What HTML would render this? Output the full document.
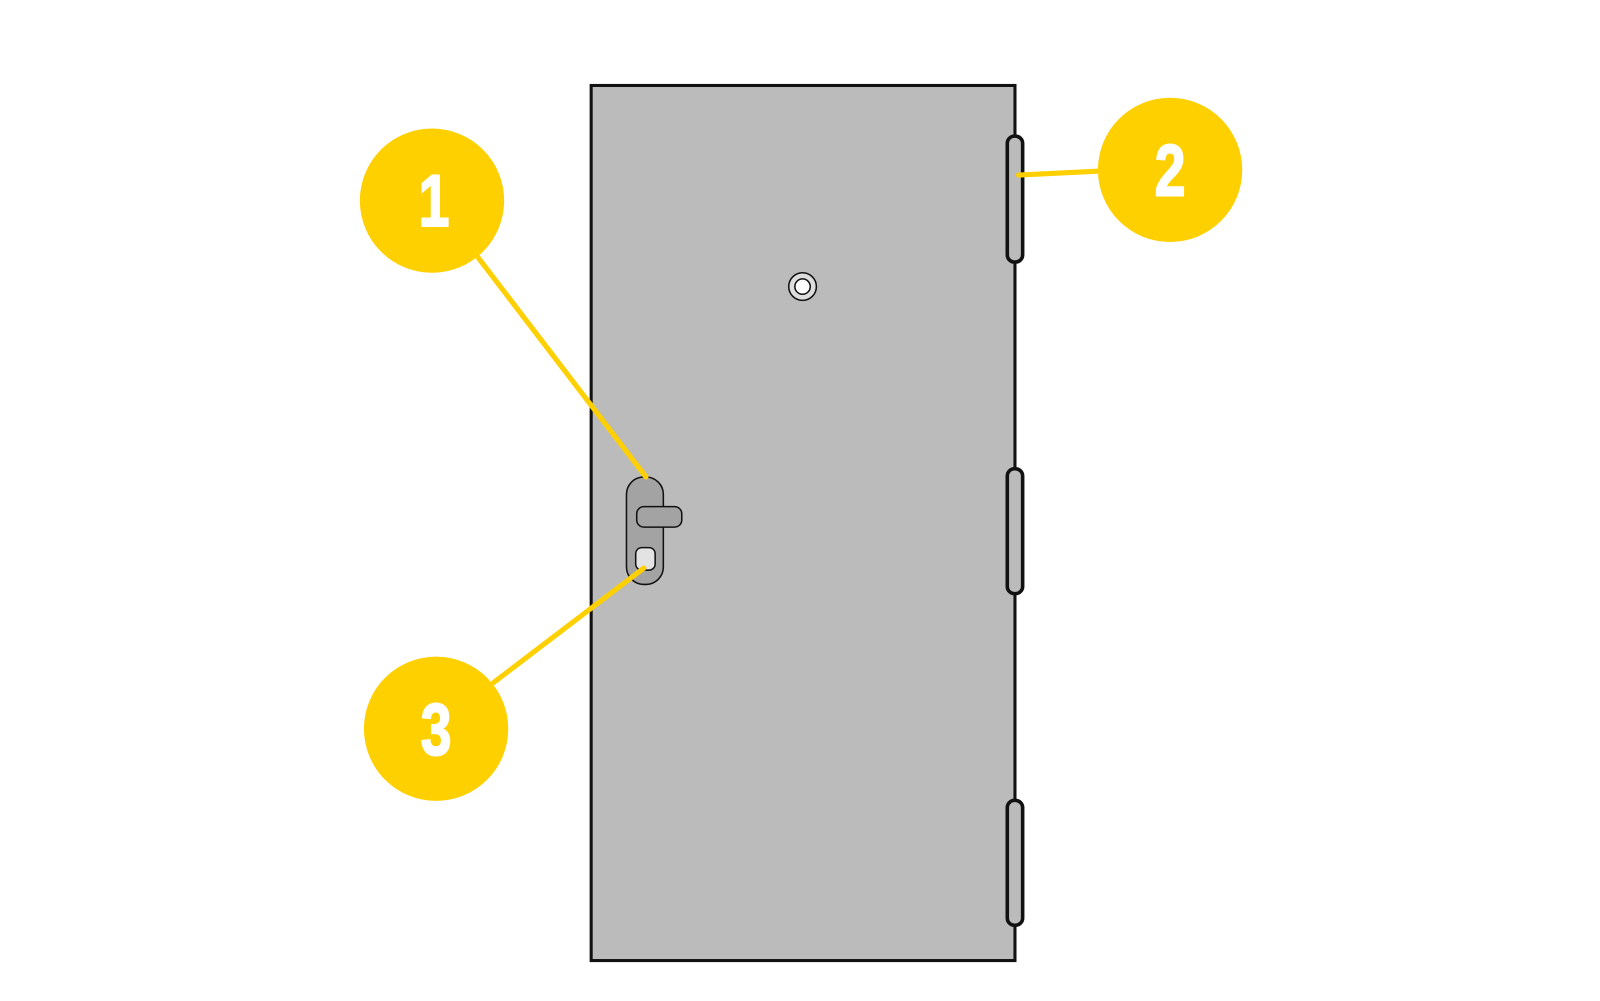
<!DOCTYPE html>
<html><head><meta charset="utf-8"><style>html,body{margin:0;padding:0;background:#fff}</style></head>
<body>
<svg width="1600" height="1001" viewBox="0 0 1563 978" preserveAspectRatio="none" xmlns="http://www.w3.org/2000/svg" style="display:block">
<g transform="translate(-3,-1)">
<rect x="580.5" y="84.5" width="414" height="855" fill="#bbbbbb" stroke="#111" stroke-width="3"/>
<rect x="987" y="134" width="15" height="123" rx="7" fill="#bbbbbb" stroke="#111" stroke-width="3.5"/>
<rect x="987" y="459" width="15" height="122" rx="7" fill="#bbbbbb" stroke="#111" stroke-width="3.5"/>
<rect x="987" y="783" width="15" height="122" rx="7" fill="#bbbbbb" stroke="#111" stroke-width="3.5"/>
<circle cx="787" cy="281" r="13.5" fill="#ddd" stroke="#111" stroke-width="1.5"/>
<circle cx="787" cy="281" r="7.5" fill="#fff" stroke="#111" stroke-width="1.5"/>
<rect x="615" y="467" width="36" height="105" rx="17" fill="#a3a3a3" stroke="#111" stroke-width="1.5"/>
<rect x="625" y="496" width="44" height="20" rx="7" fill="#a3a3a3" stroke="#111" stroke-width="1.5"/>
<rect x="624" y="536" width="19" height="22" rx="6" fill="#e3e3e3" stroke="#111" stroke-width="1.5"/>
<g stroke="#ffd000" stroke-width="5" stroke-linecap="round">
<line x1="465" y1="246" x2="634" y2="467"/>
<line x1="998" y1="172" x2="1080" y2="168"/>
<line x1="485" y1="668" x2="632" y2="556"/>
</g>
<g fill="#ffd000">
<circle cx="425" cy="197" r="70.5"/>
<circle cx="1146" cy="167" r="70.5"/>
<circle cx="429" cy="713" r="70.5"/>
</g>
<g fill="#fff" stroke="#fff" stroke-width="2" font-family="Liberation Sans, sans-serif" font-weight="bold" font-size="72" text-anchor="middle">
<text x="0" y="0" transform="translate(427,222) scale(0.75,1)">1</text>
<text x="0" y="0" transform="translate(1146,192) scale(0.75,1)">2</text>
<text x="0" y="0" transform="translate(429,738) scale(0.75,1)">3</text>
</g>
</g>
</svg>
</body></html>
